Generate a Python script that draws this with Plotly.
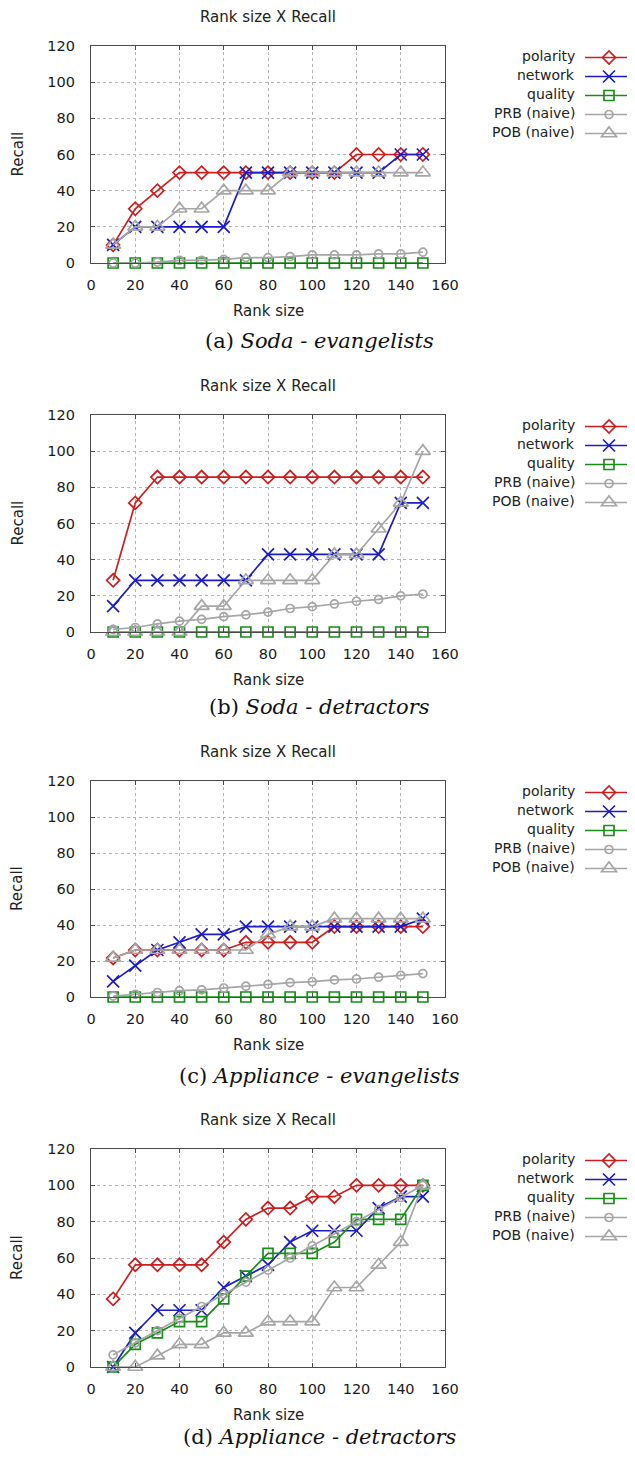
import plotly.graph_objects as go

# ---------------- data ----------------
rank = [10, 20, 30, 40, 50, 60, 70, 80, 90, 100, 110, 120, 130, 140, 150]
series_names = ["polarity", "network", "quality", "PRB (naive)", "POB (naive)"]
captions = ["(a) <i>Soda - evangelists</i>", "(b) <i>Soda - detractors</i>",
            "(c) <i>Appliance - evangelists</i>", "(d) <i>Appliance - detractors</i>"]
panel_title = "Rank size X Recall"
x_title = "Rank size"
y_title = "Recall"

pol_a = [10, 30, 40, 50, 50, 50, 50, 50, 50, 50, 50, 60, 60, 60, 60]
net_a = [10, 20, 20, 20, 20, 20, 50, 50, 50, 50, 50, 50, 50, 60, 60]
qual_a = [0, 0, 0, 0, 0, 0, 0, 0, 0, 0, 0, 0, 0, 0, 0]
prb_a = [0, 0, 0.5, 1.5, 1.5, 2, 3, 3, 3.5, 4.5, 4.5, 4.5, 5, 5, 6]
pob_a = [10, 20, 20, 30, 30, 40, 40, 40, 50, 50, 50, 50, 50, 50, 50]

pol_b = [28.6, 71.4, 85.7, 85.7, 85.7, 85.7, 85.7, 85.7, 85.7, 85.7, 85.7, 85.7, 85.7, 85.7, 85.7]
net_b = [14.3, 28.6, 28.6, 28.6, 28.6, 28.6, 28.6, 42.9, 42.9, 42.9, 42.9, 42.9, 42.9, 71.4, 71.4]
qual_b = [0, 0, 0, 0, 0, 0, 0, 0, 0, 0, 0, 0, 0, 0, 0]
prb_b = [1.5, 2.5, 4.5, 6, 7, 8.5, 9.5, 11, 13, 14, 15.5, 17, 18, 20, 21]
pob_b = [0, 0, 0, 0, 14.3, 14.3, 28.6, 28.6, 28.6, 28.6, 42.9, 42.9, 57.1, 71.4, 100]

pol_c = [21.7, 26.1, 26.1, 26.1, 26.1, 26.1, 30.4, 30.4, 30.4, 30.4, 39.1, 39.1, 39.1, 39.1, 39.1]
net_c = [8.7, 17.4, 26.1, 30.4, 34.8, 34.8, 39.1, 39.1, 39.1, 39.1, 39.1, 39.1, 39.1, 39.1, 43.5]
qual_c = [0, 0, 0, 0, 0, 0, 0, 0, 0, 0, 0, 0, 0, 0, 0]
prb_c = [0.5, 1.5, 2.5, 3.5, 4, 5, 6, 7, 8, 8.5, 9.5, 10, 11, 12, 13]
pob_c = [21.7, 26.1, 26.1, 26.1, 26.1, 26.1, 26.1, 34.8, 39.1, 39.1, 43.5, 43.5, 43.5, 43.5, 43.5]

pol_d = [37.5, 56.25, 56.25, 56.25, 56.25, 68.75, 81.25, 87.5, 87.5, 93.75, 93.75, 100, 100, 100, 100]
net_d = [0, 18.75, 31.25, 31.25, 31.25, 43.75, 50, 56.25, 68.75, 75, 75, 75, 87.5, 93.75, 93.75]
qual_d = [0, 12.5, 18.75, 25, 25, 37.5, 50, 62.5, 62.5, 62.5, 68.75, 81.25, 81.25, 81.25, 100]
prb_d = [6.7, 13.3, 20, 26.7, 33.3, 40, 46.7, 53.3, 60, 66.7, 73.3, 80, 86.7, 93.3, 100]
pob_d = [0, 0, 6.25, 12.5, 12.5, 18.75, 18.75, 25, 25, 25, 43.75, 43.75, 56.25, 68.75, 100]

panels = [
    [pol_a, net_a, qual_a, prb_a, pob_a],
    [pol_b, net_b, qual_b, prb_b, pob_b],
    [pol_c, net_c, qual_c, prb_c, pob_c],
    [pol_d, net_d, qual_d, prb_d, pob_d],
]

# ---------------- styles ----------------
OFF = 8                      # page body margin
W, H = 635 - OFF, 1461 - 2 * OFF
colors = ["#cc1e1e", "#1c1cc4", "#1a8c1a", "#a6a6a6", "#a6a6a6"]
symbols = ["diamond-open", "x-thin", "square-open", "circle-open", "triangle-up-open"]
msizes = [10, 12, 10, 8, 13]

# plot-area pixel boxes in page coordinates (top, bottom)
boxes = [(46, 263), (415, 632), (781, 997), (1149, 1367)]
x_left, x_right = 91, 445
title_off = 29
xtitle_off = 48
caption_y = [341, 707, 1076, 1437]

FONT = "DejaVu Sans"


def py(p):
    return 1 - (p - OFF) / H


def px(p):
    return (p - OFF) / W


fig = go.Figure()
layout = {}
annotations = []


def ann(text, x, y, size=14, family=FONT, xanchor="center", angle=0, color="#222222"):
    return dict(text=text, x=x, y=y, xref="paper", yref="paper", showarrow=False,
                xanchor=xanchor, yanchor="middle", textangle=angle,
                font=dict(family=family, size=size, color=color))


for i, data in enumerate(panels):
    k = "" if i == 0 else str(i + 1)
    xa, ya = "x" + k, "y" + k
    leg = "legend" + k
    top, bot = boxes[i]
    for j, vals in enumerate(data):
        marker = dict(symbol=symbols[j], size=msizes[j], color=colors[j],
                      line=dict(color=colors[j], width=1.7))
        fig.add_trace(go.Scatter(
            x=rank, y=vals, mode="lines+markers", name="",
            line=dict(color=colors[j], width=1.7),
            marker=marker, xaxis=xa, yaxis=ya, legend=leg,
            showlegend=True, cliponaxis=False,
            hovertemplate=series_names[j] + ": %{x}, %{y}<extra></extra>",
        ))
    axcommon = dict(showline=True, mirror="ticks", linecolor="#4a4a4a", linewidth=1.2,
                    ticks="inside", ticklen=4, tickcolor="#4a4a4a", tickwidth=1,
                    showgrid=True, gridcolor="#b5b5b5", griddash="dot", gridwidth=1,
                    zeroline=False, tickfont=dict(family=FONT, size=14.5, color="#1a1a1a"))
    layout["xaxis" + k] = dict(axcommon, range=[0, 160], dtick=20, tick0=0,
                               ticklabelstandoff=8,
                               domain=[px(x_left), px(x_right)], anchor=ya)
    layout["yaxis" + k] = dict(axcommon, range=[0, 120], dtick=20, tick0=0,
                               ticklabelstandoff=12,
                               domain=[py(bot), py(top)], anchor=xa)
    layout[leg] = dict(x=px(580), y=py(top - 3), xanchor="left", yanchor="top",
                       bgcolor="rgba(0,0,0,0)", itemwidth=48,
                       font=dict(family=FONT, size=12), tracegroupgap=0,
                       traceorder="normal", itemclick=False, itemdoubleclick=False)
    annotations.append(ann(panel_title, px((x_left + x_right) / 2), py(top - title_off), size=15))
    annotations.append(ann(x_title, px((x_left + x_right) / 2), py(bot + xtitle_off), size=15))
    annotations.append(ann(y_title, px(17), py((top + bot) / 2), size=15, angle=-90))
    annotations.append(ann(captions[i], px(319), py(caption_y[i]), size=21,
                           family="DejaVu Serif", color="#111111"))
    for j, nm in enumerate(series_names):
        annotations.append(ann(nm, px(577), py(top + 10 + 19 * j), xanchor="right"))

fig.update_layout(**layout)
fig.update_layout(width=W, height=H, margin=dict(l=0, r=0, t=0, b=0, autoexpand=False),
                  paper_bgcolor="white", plot_bgcolor="white",
                  annotations=annotations, hovermode="closest")

fig.write_html("out.html")
